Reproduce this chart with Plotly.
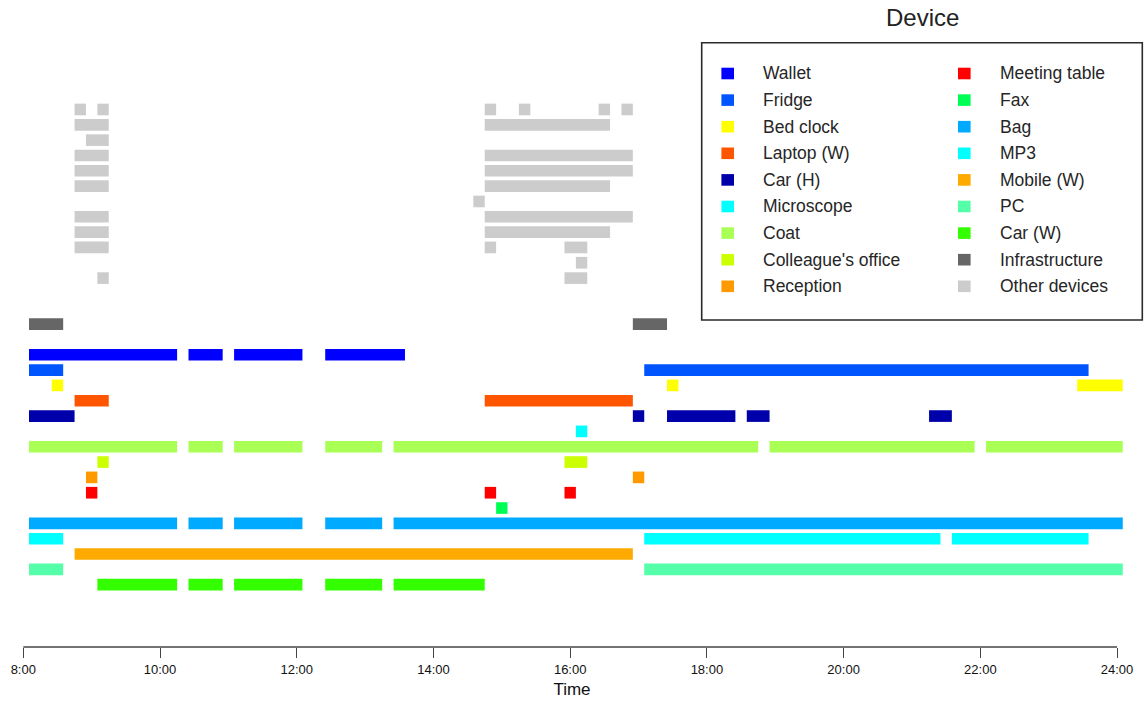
import plotly.graph_objects as go

# ---------------------------------------------------------------------------
# Device activity over one day: (start, end) clock times, 10-minute resolution
# ---------------------------------------------------------------------------
WALLET = [("8:05", "10:15"), ("10:25", "10:55"), ("11:05", "12:05"), ("12:25", "13:35")]
FRIDGE = [("8:05", "8:35"), ("17:05", "23:35")]
BED_CLOCK = [("8:25", "8:35"), ("17:25", "17:35"), ("23:25", "24:05")]
LAPTOP_W = [("8:45", "9:15"), ("14:45", "16:55")]
CAR_H = [("8:05", "8:45"), ("16:55", "17:05"), ("17:25", "18:25"), ("18:35", "18:55"),
         ("21:15", "21:35")]
MICROSCOPE = [("16:05", "16:15")]
COAT = [("8:05", "10:15"), ("10:25", "10:55"), ("11:05", "12:05"), ("12:25", "13:15"),
        ("13:25", "18:45"), ("18:55", "21:55"), ("22:05", "24:05")]
COLLEAGUES_OFFICE = [("9:05", "9:15"), ("15:55", "16:15")]
RECEPTION = [("8:55", "9:05"), ("16:55", "17:05")]
MEETING_TABLE = [("8:55", "9:05"), ("14:45", "14:55"), ("15:55", "16:05")]
FAX = [("14:55", "15:05")]
BAG = [("8:05", "10:15"), ("10:25", "10:55"), ("11:05", "12:05"), ("12:25", "13:15"),
       ("13:25", "24:05")]
MP3 = [("8:05", "8:35"), ("17:05", "21:25"), ("21:35", "23:35")]
MOBILE_W = [("8:45", "16:55")]
PC = [("8:05", "8:35"), ("17:05", "24:05")]
CAR_W = [("9:05", "10:15"), ("10:25", "10:55"), ("11:05", "12:05"), ("12:25", "13:15"),
         ("13:25", "14:45")]
INFRASTRUCTURE = [("8:05", "8:35"), ("16:55", "17:25")]

# Other devices, one list per device (top to bottom)
OTHER_DEVICES = [
    [("8:45", "8:55"), ("9:05", "9:15"), ("14:45", "14:55"), ("15:15", "15:25"),
     ("16:25", "16:35"), ("16:45", "16:55")],
    [("8:45", "9:15"), ("14:45", "16:35")],
    [("8:55", "9:15")],
    [("8:45", "9:15"), ("14:45", "16:55")],
    [("8:45", "9:15"), ("14:45", "16:55")],
    [("8:45", "9:15"), ("14:45", "16:35")],
    [("14:35", "14:45")],
    [("8:45", "9:15"), ("14:45", "16:55")],
    [("8:45", "9:15"), ("14:45", "16:35")],
    [("8:45", "9:15"), ("14:45", "14:55"), ("15:55", "16:15")],
    [("16:05", "16:15")],
    [("9:05", "9:15"), ("15:55", "16:15")],
]

DEVICE_NAMES = ["Wallet", "Fridge", "Bed clock", "Laptop (W)", "Car (H)", "Microscope",
                "Coat", "Colleague's office", "Reception", "Meeting table", "Fax", "Bag",
                "MP3", "Mobile (W)", "PC", "Car (W)"]
DEVICE_INTERVALS = [WALLET, FRIDGE, BED_CLOCK, LAPTOP_W, CAR_H, MICROSCOPE, COAT,
                    COLLEAGUES_OFFICE, RECEPTION, MEETING_TABLE, FAX, BAG, MP3,
                    MOBILE_W, PC, CAR_W]

TICK_HOURS = [8, 10, 12, 14, 16, 18, 20, 22, 24]
TICK_LABELS = ["8:00", "10:00", "12:00", "14:00", "16:00", "18:00", "20:00", "22:00", "24:00"]

# ---------------------------------------------------------------------------
# Styling
# ---------------------------------------------------------------------------
COLORS = {
    "Wallet": "#0000FF", "Fridge": "#0055FF", "Bed clock": "#FFFF00",
    "Laptop (W)": "#FF5500", "Car (H)": "#0000AA", "Microscope": "#00FFFF",
    "Coat": "#AAFF55", "Colleague's office": "#CCFF00", "Reception": "#FF9900",
    "Meeting table": "#FF0000", "Fax": "#00FF55", "Bag": "#00AAFF",
    "MP3": "#00FFFF", "Mobile (W)": "#FFAA00", "PC": "#55FFAA", "Car (W)": "#33FF00",
    "Infrastructure": "#666666", "Other devices": "#CCCCCC",
}
LEGEND_ORDER = DEVICE_NAMES + ["Infrastructure", "Other devices"]

W, H = 1144, 702
MARGIN_B = 55
PLOT_H = H - MARGIN_B
FONT = "Liberation Sans, Arial, Helvetica, sans-serif"

PX_PER_HOUR = 68.36
X0_PX = 23.3                      # pixel position of 8:00
ROW_PX = 15.33                    # vertical pitch of one row
ROW1_PX = 584.7                   # pixel position of the lowest row
BAR_W = 0.76

x_min = 8 - X0_PX / PX_PER_HOUR
x_max = x_min + W / PX_PER_HOUR
y_min = 1 - (PLOT_H - ROW1_PX) / ROW_PX
y_max = 1 + ROW1_PX / ROW_PX


def hours(t):
    h, m = t.split(":")
    return int(h) + int(m) / 60.0


def bar_trace(rows, intervals, color, name):
    ys, bases, lens = [], [], []
    for row, ivs in zip(rows, intervals):
        for a, b in ivs:
            ys.append(row)
            bases.append(hours(a))
            lens.append(hours(b) - hours(a))
    return go.Bar(y=ys, base=bases, x=lens, orientation="h", width=BAR_W,
                  marker=dict(color=color, line=dict(width=0)),
                  name=name, showlegend=False, hoverinfo="name")


fig = go.Figure()

# named devices: Wallet on row 16 down to Car (W) on row 1
n = len(DEVICE_NAMES)
for i, (name, ivs) in enumerate(zip(DEVICE_NAMES, DEVICE_INTERVALS)):
    fig.add_trace(bar_trace([n - i], [ivs], COLORS[name], name))

fig.add_trace(bar_trace([n + 2], [INFRASTRUCTURE], COLORS["Infrastructure"], "Infrastructure"))

other_rows = [n + 5 + len(OTHER_DEVICES) - 1 - k for k in range(len(OTHER_DEVICES))]
fig.add_trace(bar_trace(other_rows, OTHER_DEVICES, COLORS["Other devices"], "Other devices"))


def px_x(px):
    return px / W


def px_y(py):
    return (PLOT_H - py) / PLOT_H


shapes = []
annotations = []

# x axis baseline spanning the first to the last tick
shapes.append(dict(type="line", xref="x", yref="paper", x0=TICK_HOURS[0], x1=TICK_HOURS[-1],
                   y0=0, y1=0, line=dict(color="#444444", width=1.3)))

# legend box
shapes.append(dict(type="rect", xref="paper", yref="paper",
                   x0=px_x(701.7), x1=px_x(1142.3), y0=px_y(320.0), y1=px_y(42.7),
                   line=dict(color="#2a2a2a", width=1.6), fillcolor="rgba(0,0,0,0)"))

annotations.append(dict(text="Device", xref="paper", yref="paper", x=px_x(922), y=px_y(18),
                        xanchor="center", yanchor="middle", showarrow=False,
                        font=dict(family=FONT, size=24, color="#222222")))

per_col = 9
for k, name in enumerate(LEGEND_ORDER):
    col, r = divmod(k, per_col)
    cy = 73.5 + r * 26.6
    kx = 727.7 if col == 0 else 964.3
    tx = 761.0 if col == 0 else 997.7
    shapes.append(dict(type="rect", xref="paper", yref="paper",
                       x0=px_x(kx - 6.3), x1=px_x(kx + 6.3),
                       y0=px_y(cy + 5.8), y1=px_y(cy - 5.8),
                       line=dict(width=0), fillcolor=COLORS[name]))
    annotations.append(dict(text=name, xref="paper", yref="paper", x=px_x(tx), y=px_y(cy),
                            xanchor="left", yanchor="middle", showarrow=False,
                            font=dict(family=FONT, size=17.5, color="#262626")))

fig.update_layout(
    width=W, height=H,
    margin=dict(l=0, r=0, t=0, b=MARGIN_B, pad=0),
    paper_bgcolor="white", plot_bgcolor="white",
    barmode="overlay",
    showlegend=False,
    shapes=shapes,
    annotations=annotations,
    xaxis=dict(range=[x_min, x_max], tickvals=TICK_HOURS, ticktext=TICK_LABELS,
               ticks="outside", ticklen=10, tickwidth=1.3, tickcolor="#444444",
               showgrid=False, zeroline=False, showline=False, automargin=False,
               tickfont=dict(family=FONT, size=13, color="#111111"),
               title=dict(text="Time", font=dict(family=FONT, size=17, color="#111111"),
                          standoff=7)),
    yaxis=dict(range=[y_min, y_max], visible=False, fixedrange=True),
)

fig.write_html("out.html")
